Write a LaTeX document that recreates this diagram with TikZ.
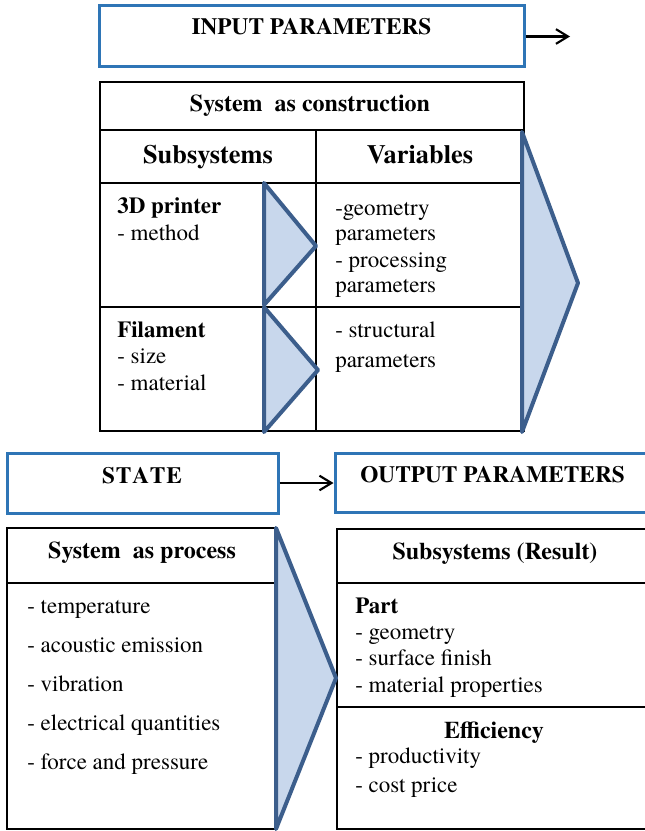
\documentclass[tikz,border=0pt]{standalone}
\usepackage{fontspec}
\setmainfont{TeX Gyre Termes}
\usetikzlibrary{fit,arrows.meta}
\definecolor{boxblue}{RGB}{46,117,182}
\definecolor{chevline}{RGB}{60,94,140}
\definecolor{chevfill}{RGB}{200,215,236}
\tikzset{
  bluebox/.style={draw=boxblue, line width=2.25pt, inner sep=0pt, fill=white},
  tblbox/.style={draw=black, line width=1.5pt, inner sep=0pt},
  tblline/.style={draw=black, line width=1.5pt},
  chev/.style={draw=chevline, fill=chevfill, line width=3pt, line join=round},
  conn/.style={draw=black, line width=1.6pt, -{Straight Barb[length=9pt,width=11pt,line width=1.6pt]}},
  txt/.style={inner sep=0pt, anchor=base west, font=\fontsize{17.25}{20}\selectfont},
  btxt/.style={inner sep=0pt, anchor=base west, font=\fontsize{17.25}{20}\selectfont\bfseries},
  hdr/.style={inner sep=0pt, anchor=base, font=\fontsize{18}{21}\selectfont\bfseries},
  bighdr/.style={inner sep=0pt, anchor=base, font=\fontsize{19.8}{23}\selectfont\bfseries},
}
\begin{document}
\begin{tikzpicture}[x=0.75pt,y=-0.75pt]
\useasboundingbox (0,0) rectangle (645,831);
\clip (0,0) rectangle (645,831);
\fill[white] (0,0) rectangle (645,831);

% ---------- top: input parameters ----------
\node[bluebox, fit={(99,6) (524,67)}] (inp) {};
\node[hdr, font=\fontsize{17.5}{21}\selectfont\bfseries] (inptxt) at (311.5,35) {INPUT PARAMETERS};
\coordinate (inpend) at (570,36.5);
\draw[conn] (inp.east) -- (inpend);

% ---------- system as construction table ----------
\node[tblbox, fit={(100,82) (524,431)}] (cons) {};
\draw[tblline] (100,130) -- (524,130);
\draw[tblline] (100,183) -- (524,183);
\draw[tblline] (100,307) -- (524,307);
\draw[tblline] (316,130) -- (316,431);

\node[hdr] (constitle) at (310,112) {System\ \ as construction};
\node[bighdr] (subsys) at (208,163) {Subsystems};
\node[bighdr] (vars) at (420,163) {Variables};

\node[btxt] (printer) at (117,213) {3D printer};
\node[txt] (method) at (117,240) {- method};
\node[btxt] (filament) at (117,337) {Filament};
\node[txt] (size) at (117,363) {- size};
\node[txt] (material) at (117,390) {- material};

\node[txt] (geom) at (335,215) {-geometry};
\node[txt] (geomp) at (335,240) {parameters};
\node[txt] (proc) at (335,267) {- processing};
\node[txt] (procp) at (335,292) {parameters};
\node[txt] (struct) at (335,337) {- structural};
\node[txt] (structp) at (335,367) {parameters};

% small triangles and big chevron
\draw[chev] (264,183) -- (316,246) -- (264,305) -- cycle;
\draw[chev] (264,307) -- (318,370) -- (264,432) -- cycle;
\draw[chev] (522,132) -- (578,283) -- (522,432) -- cycle;

% ---------- bottom: state / output ----------
\node[bluebox, fit={(7,453) (278,513)}] (state) {};
\node[hdr, font=\fontsize{17.5}{21}\selectfont\bfseries] (statetxt) at (142,483) {S\kern0.6pt T\kern0.6pt A\kern0.6pt T\kern0.6pt E};
\node[bluebox, fit={(335,453) (665,512)}] (outp) {};
\node[btxt, font=\fontsize{17.5}{21}\selectfont\bfseries] (outtxt) at (360,482) {OUTPUT PARAMETERS};
\draw[conn] (state.east) -- (outp.west |- state.east);

% system as process
\node[tblbox, fit={(7,528) (276,829)}] (proc2) {};
\draw[tblline] (7,583) -- (276,583);
\node[hdr] (proctitle) at (142,558) {System\ \ as process};
\node[txt] (temp) at (27,613) {- temperature};
\node[txt] (acou) at (27,652) {- acoustic emission};
\node[txt] (vibr) at (27,691) {- vibration};
\node[txt] (elec) at (27,730) {- electrical quantities};
\node[txt] (force) at (27,769) {- force and pressure};

% result
\node[tblbox, fit={(337,529) (665,829)}] (res) {};
\draw[tblline] (337,583) -- (665,583);
\draw[tblline] (337,707) -- (665,707);
\node[hdr] (restitle) at (495,559) {Subsystems (Result)};
\node[btxt] (part) at (355,613) {Part};
\node[txt] (pgeom) at (355,639) {- geometry};
\node[txt] (psurf) at (355,665) {- surface finish};
\node[txt] (pmat) at (355,692) {- material properties};
\node[hdr] (eff) at (494,738) {Efficiency};
\node[txt] (prod) at (355,763) {- productivity};
\node[txt] (cost) at (355,792) {- cost price};

\draw[chev] (276,528) -- (336,678) -- (276,829) -- cycle;
\end{tikzpicture}
\end{document}
